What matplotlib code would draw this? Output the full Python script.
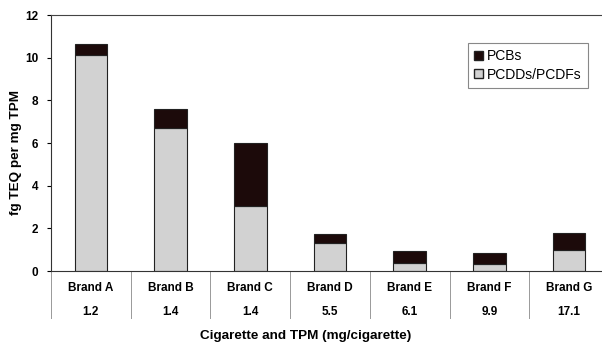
import numpy as np
import matplotlib
matplotlib.use("Agg")
import matplotlib.pyplot as plt
from matplotlib.patches import Patch

plt.rcParams['font.family'] = ['Liberation Sans', 'DejaVu Sans']

# dioxin TEQ per mg total particulate matter, by brand
brands = ['Brand A', 'Brand B', 'Brand C', 'Brand D', 'Brand E', 'Brand F', 'Brand G']
tpm = ['1.2', '1.4', '1.4', '5.5', '6.1', '9.9', '17.1']
pcdd_pcdf = [10.13, 6.69, 3.06, 1.31, 0.39, 0.31, 0.97]
pcb = [0.50, 0.92, 2.92, 0.41, 0.56, 0.52, 0.80]

dark = '#1c0a0a'
light = '#d2d2d2'

fig = plt.figure(figsize=(6.02, 3.42), dpi=100)
ax = fig.add_axes([51 / 602, 71 / 342, 558 / 602, 256 / 342])

x = np.arange(len(brands))
w = 0.41
ax.bar(x, pcdd_pcdf, w, color=light, edgecolor='#222222', linewidth=0.8)
ax.bar(x, pcb, w, bottom=pcdd_pcdf, color=dark, edgecolor='#222222', linewidth=0.8)

ax.set_xlim(-0.5, len(brands) - 0.5)
ax.set_ylim(0, 12)
ax.set_yticks(np.arange(0, 13, 2))
ax.set_xticks([])
for lab in ax.get_yticklabels():
    lab.set_fontweight('bold')
    lab.set_fontsize(8.5)
ax.tick_params(axis='y', direction='out', length=3, width=0.8, pad=6)

ax.spines['right'].set_visible(False)
ax.spines['top'].set_color('#444444')
ax.spines['left'].set_color('#333333')
ax.spines['bottom'].set_color('#333333')

fig.text(16 / 602, 0.555, 'fg TEQ per mg TPM', rotation=90, ha='center',
         va='center', fontsize=9.7, fontweight='bold')

# category table under the axis
trans = ax.get_xaxis_transform()
for i in range(len(brands)):
    ax.text(x[i], -0.066, brands[i], transform=trans, ha='center', va='center',
            fontsize=8.5, fontweight='bold', clip_on=False)
    ax.text(x[i], -0.16, tpm[i], transform=trans, ha='center', va='center',
            fontsize=8.5, fontweight='bold', clip_on=False)
for b in np.arange(-0.5, len(brands), 1.0):
    ax.plot([b, b], [0, -0.184], transform=trans, color='#999999', lw=0.7,
            clip_on=False)

fig.text(306 / 602, 6 / 342, 'Cigarette and TPM (mg/cigarette)', ha='center',
         va='center', fontsize=9.7, fontweight='bold')

handles = [Patch(facecolor=dark, edgecolor='#222222', label='PCBs'),
           Patch(facecolor=light, edgecolor='#222222', label='PCDDs/PCDFs')]
leg = ax.legend(handles=handles, loc='upper left', bbox_to_anchor=(410 / 558, 0.917),
                fontsize=10, handlelength=0.6, handleheight=0.6, handletextpad=0.3,
                fancybox=False, framealpha=1, borderpad=0.45, labelspacing=0.3)
leg.get_frame().set_edgecolor('#888888')
leg.get_frame().set_linewidth(0.8)

fig.savefig('out.png', dpi=100)
